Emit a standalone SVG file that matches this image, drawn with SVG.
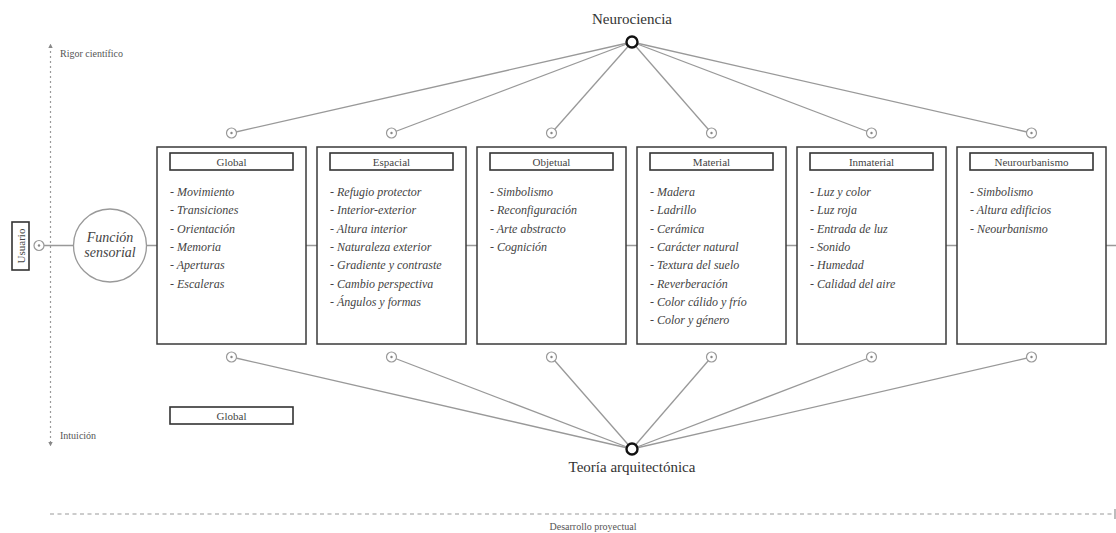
<svg xmlns="http://www.w3.org/2000/svg" width="1116" height="533" viewBox="0 0 1116 533">
<style>
.bg{fill:#fff}
.box{fill:#fff;stroke:#3a3a3a;stroke-width:1.5}
.hdr{fill:#fff;stroke:#333;stroke-width:1.6}
.ht{font-family:"Liberation Serif",serif;font-size:11px;fill:#444;text-anchor:middle}
.it{font-family:"Liberation Serif",serif;font-style:italic;font-size:12px;fill:#444}
.fs{font-family:"Liberation Serif",serif;font-style:italic;font-size:14px;fill:#444;text-anchor:middle}
.ln{stroke:#999;stroke-width:1.3;fill:none}
.port{fill:#fff;stroke:#999;stroke-width:1.2}
.dot{fill:#888}
.hub{fill:#fff;stroke:#111;stroke-width:2.4}
.big{font-family:"Liberation Serif",serif;font-size:15px;fill:#333;text-anchor:middle}
.ax{font-family:"Liberation Serif",serif;font-size:10px;fill:#555}
.dash{stroke:#999;stroke-width:1.2;fill:none}
</style>
<defs>
<g id="p"><circle class="port" r="5"/><circle class="dot" r="1.2"/></g>
<marker id="ah" viewBox="0 0 6 6" refX="3" refY="3" markerWidth="4" markerHeight="4" orient="auto-start-reverse"><path d="M0,0 L6,3 L0,6 z" fill="#888"/></marker>
</defs>
<rect class="bg" x="0" y="0" width="1116" height="533"/>

<g id="axes">
<line class="dash" x1="50.5" y1="46" x2="50.5" y2="444" stroke-dasharray="2,3" marker-start="url(#ah)" marker-end="url(#ah)"/>
<text class="ax" x="60" y="57">Rigor científico</text>
<text class="ax" x="60" y="439">Intuición</text>
<line class="dash" x1="50" y1="514" x2="1113" y2="514" stroke-dasharray="4,3.5"/>
<line class="ln" x1="1115" y1="509" x2="1115" y2="519"/>
<text class="ax" x="593" y="530" text-anchor="middle">Desarrollo proyectual</text>
</g>

<g id="connectors">
<line class="ln" x1="39" y1="245.5" x2="1116" y2="245.5"/>
<line class="ln" x1="632" y1="42" x2="231.5" y2="133"/>
<line class="ln" x1="632" y1="42" x2="391.5" y2="133"/>
<line class="ln" x1="632" y1="42" x2="551.5" y2="133"/>
<line class="ln" x1="632" y1="42" x2="711.5" y2="133"/>
<line class="ln" x1="632" y1="42" x2="871.5" y2="133"/>
<line class="ln" x1="632" y1="42" x2="1031.5" y2="133"/>
<line class="ln" x1="632" y1="449" x2="231.5" y2="357"/>
<line class="ln" x1="632" y1="449" x2="391.5" y2="357"/>
<line class="ln" x1="632" y1="449" x2="551.5" y2="357"/>
<line class="ln" x1="632" y1="449" x2="711.5" y2="357"/>
<line class="ln" x1="632" y1="449" x2="871.5" y2="357"/>
<line class="ln" x1="632" y1="449" x2="1031.5" y2="357"/>
</g>

<g id="neurociencia">
<text class="big" x="632" y="24">Neurociencia</text>
<circle class="hub" cx="632" cy="42" r="5.5"/>
</g>
<g id="teoria">
<circle class="hub" cx="632" cy="449" r="5.5"/>
<text class="big" x="632" y="472">Teoría arquitectónica</text>
</g>

<g id="usuario">
<rect class="hdr" x="12" y="222" width="17" height="48"/>
<text class="ht" transform="translate(24.5,246) rotate(-90)" x="0" y="0">Usuario</text>
<use href="#p" x="39" y="245.5"/>
</g>

<g id="funcion">
<circle cx="110" cy="245.5" r="36.5" fill="#fff" stroke="#999" stroke-width="1.3"/>
<text class="fs" x="110" y="242">Función</text>
<text class="fs" x="110" y="257">sensorial</text>
</g>

<g id="ports">
<use href="#p" x="231.5" y="133"/><use href="#p" x="391.5" y="133"/><use href="#p" x="551.5" y="133"/>
<use href="#p" x="711.5" y="133"/><use href="#p" x="871.5" y="133"/><use href="#p" x="1031.5" y="133"/>
<use href="#p" x="231.5" y="357"/><use href="#p" x="391.5" y="357"/><use href="#p" x="551.5" y="357"/>
<use href="#p" x="711.5" y="357"/><use href="#p" x="871.5" y="357"/><use href="#p" x="1031.5" y="357"/>
</g>

<g id="global">
<rect class="box" x="157" y="147" width="149" height="197"/>
<rect class="hdr" x="170" y="153" width="123" height="17"/>
<text class="ht" x="231.5" y="165.5">Global</text>
<text class="it" x="170" y="196">- Movimiento</text>
<text class="it" x="170" y="214.3">- Transiciones</text>
<text class="it" x="170" y="232.6">- Orientación</text>
<text class="it" x="170" y="250.9">- Memoria</text>
<text class="it" x="170" y="269.2">- Aperturas</text>
<text class="it" x="170" y="287.5">- Escaleras</text>
</g>

<g id="espacial">
<rect class="box" x="317" y="147" width="149" height="197"/>
<rect class="hdr" x="330" y="153" width="123" height="17"/>
<text class="ht" x="391.5" y="165.5">Espacial</text>
<text class="it" x="330" y="196">- Refugio protector</text>
<text class="it" x="330" y="214.3">- Interior-exterior</text>
<text class="it" x="330" y="232.6">- Altura interior</text>
<text class="it" x="330" y="250.9">- Naturaleza exterior</text>
<text class="it" x="330" y="269.2">- Gradiente y contraste</text>
<text class="it" x="330" y="287.5">- Cambio perspectiva</text>
<text class="it" x="330" y="305.8">- Ángulos y formas</text>
</g>

<g id="objetual">
<rect class="box" x="477" y="147" width="149" height="197"/>
<rect class="hdr" x="490" y="153" width="123" height="17"/>
<text class="ht" x="551.5" y="165.5">Objetual</text>
<text class="it" x="490" y="196">- Simbolismo</text>
<text class="it" x="490" y="214.3">- Reconfiguración</text>
<text class="it" x="490" y="232.6">- Arte abstracto</text>
<text class="it" x="490" y="250.9">- Cognición</text>
</g>

<g id="material">
<rect class="box" x="637" y="147" width="149" height="197"/>
<rect class="hdr" x="650" y="153" width="123" height="17"/>
<text class="ht" x="711.5" y="165.5">Material</text>
<text class="it" x="650" y="196">- Madera</text>
<text class="it" x="650" y="214.3">- Ladrillo</text>
<text class="it" x="650" y="232.6">- Cerámica</text>
<text class="it" x="650" y="250.9">- Carácter natural</text>
<text class="it" x="650" y="269.2">- Textura del suelo</text>
<text class="it" x="650" y="287.5">- Reverberación</text>
<text class="it" x="650" y="305.8">- Color cálido y frío</text>
<text class="it" x="650" y="324.1">- Color y género</text>
</g>

<g id="inmaterial">
<rect class="box" x="797" y="147" width="149" height="197"/>
<rect class="hdr" x="810" y="153" width="123" height="17"/>
<text class="ht" x="871.5" y="165.5">Inmaterial</text>
<text class="it" x="810" y="196">- Luz y color</text>
<text class="it" x="810" y="214.3">- Luz roja</text>
<text class="it" x="810" y="232.6">- Entrada de luz</text>
<text class="it" x="810" y="250.9">- Sonido</text>
<text class="it" x="810" y="269.2">- Humedad</text>
<text class="it" x="810" y="287.5">- Calidad del aire</text>
</g>

<g id="neurourbanismo">
<rect class="box" x="957" y="147" width="149" height="197"/>
<rect class="hdr" x="970" y="153" width="123" height="17"/>
<text class="ht" x="1031.5" y="165.5">Neurourbanismo</text>
<text class="it" x="970" y="196">- Simbolismo</text>
<text class="it" x="970" y="214.3">- Altura edificios</text>
<text class="it" x="970" y="232.6">- Neourbanismo</text>
</g>

<g id="global2">
<rect class="hdr" x="170" y="407" width="123" height="17"/>
<text class="ht" x="231.5" y="419.5">Global</text>
</g>
</svg>
